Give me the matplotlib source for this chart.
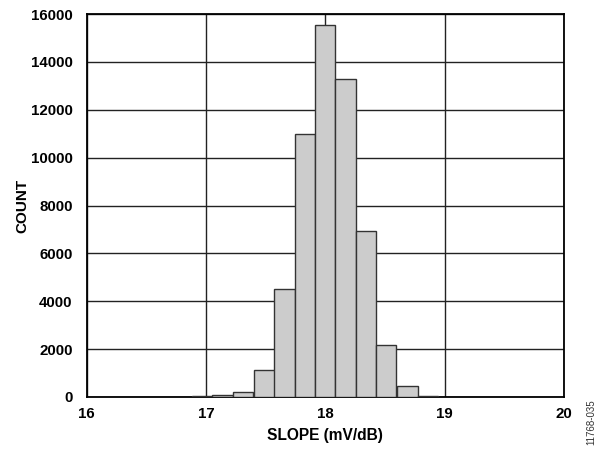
import matplotlib
matplotlib.use("Agg")
import matplotlib.pyplot as plt

plt.rcParams['font.family'] = ['Liberation Sans', 'DejaVu Sans']

bin_centers = [16.97, 17.14, 17.31, 17.49, 17.66, 17.83, 18.00, 18.17, 18.34, 18.51, 18.69, 18.86]
counts = [40, 100, 210, 1120, 4530, 10980, 15540, 13300, 6920, 2190, 460, 60]
bin_width = 0.1714
x_ticks = [16, 17, 18, 19, 20]
y_ticks = [0, 2000, 4000, 6000, 8000, 10000, 12000, 14000, 16000]

fig = plt.figure(figsize=(5.99, 4.51), dpi=100)
ax = fig.add_axes([86.5/599, 1-397/451, (564-86.5)/599, (397-14)/451])

ax.bar(bin_centers, counts, width=bin_width, align='center',
       color='#cccccc', edgecolor='#333333', linewidth=1.0, zorder=3)

ax.set_xlim(16, 20)
ax.set_ylim(0, 16000)
ax.set_xticks(x_ticks)
ax.set_yticks(y_ticks)
ax.grid(True, color='#222222', linewidth=1.0, zorder=0)
ax.set_axisbelow(True)
for s in ax.spines.values():
    s.set_linewidth(1.3)
    s.set_color('black')
ax.tick_params(length=0, labelsize=10.8)
ax.tick_params(axis='x', pad=7)
ax.tick_params(axis='y', pad=10)
for lab in ax.get_xticklabels() + ax.get_yticklabels():
    lab.set_fontweight('bold')

ax.set_xlabel('SLOPE (mV/dB)', fontsize=11.2, fontweight='bold', labelpad=5)
ax.set_ylabel('COUNT', fontsize=11, fontweight='bold', labelpad=1)

fig.text(591/599, 1-422/451, '11768-035', rotation=90, fontsize=7,
         ha='center', va='center', color='#333333')

fig.savefig('out.png', dpi=100)
